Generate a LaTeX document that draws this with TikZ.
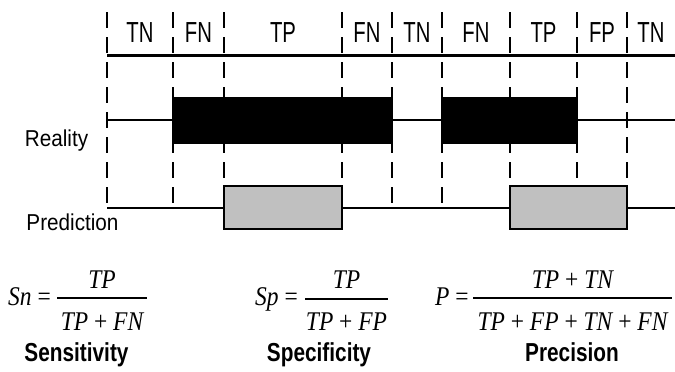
\documentclass[tikz,border=0pt]{standalone}
\usepackage{fontspec}
\setmainfont{Liberation Sans}
\newfontfamily\lblfont{Liberation Sans}[FakeStretch=0.7]
\newfontfamily\sidefont{Liberation Sans}[FakeStretch=0.9]
\newfontfamily\namefont{Liberation Sans}[FakeStretch=0.8]
\newfontfamily\tnr{Liberation Serif}[FakeStretch=0.87]
\newcommand\vi[1]{{\itshape #1}}
\definecolor{predgrey}{RGB}{192,192,192}
\begin{document}
\begin{tikzpicture}[x=1pt,y=-1pt,
  seglabel/.style={font=\lblfont\fontsize{29}{31}\selectfont, anchor=base, inner sep=0pt},
  sidelabel/.style={font=\sidefont\fontsize{23}{25}\selectfont, anchor=base, inner sep=0pt},
  namelabel/.style={font=\namefont\bfseries\fontsize{26}{28}\selectfont, anchor=base, inner sep=0pt},
  fml/.style={font=\tnr\fontsize{27}{29}\selectfont, anchor=base, inner sep=0pt},
  fmllhs/.style={fml, anchor=base west},
  divider/.style={line width=1.6pt, dash pattern=on 16pt off 9pt},
  axisline/.style={line width=3pt},
  trackline/.style={line width=1.7pt},
  realbox/.style={fill=black, draw=black, line width=1.4pt},
  predbox/.style={fill=predgrey, draw=black, line width=1.7pt},
  fracbar/.style={line width=1.6pt}]
\useasboundingbox (0,0) rectangle (675,372);
\fill[white] (0,0) rectangle (675,372);

% dividers
\foreach \i/\x in {0/107,1/173,2/224,3/342,4/392,5/442,6/510,7/577,8/627} {
  \coordinate (t\i) at (\x,12);
  \coordinate (b\i) at (\x,208);
  \draw[divider] (t\i) -- (b\i);
}

% axis and tracks
\coordinate (axisL) at (107,55);  \coordinate (axisR) at (675,55);
\coordinate (realL) at (107,120); \coordinate (realR) at (675,120);
\coordinate (predL) at (107,208); \coordinate (predR) at (675,208);
\draw[axisline] (axisL) -- (axisR);
\draw[trackline] (realL) -- (realR);
\draw[trackline] (predL) -- (predR);

% reality boxes
\draw[realbox] (173,98) rectangle (392,143);
\draw[realbox] (442,98) rectangle (577,143);
% prediction boxes
\draw[predbox] (224,186) rectangle (342,229);
\draw[predbox] (510,186) rectangle (627,229);

% segment labels
\node[seglabel] (l1) at (140,42) {TN};
\node[seglabel] (l2) at (198.5,42) {FN};
\node[seglabel] (l3) at (283,42) {TP};
\node[seglabel] (l4) at (367,42) {FN};
\node[seglabel] (l5) at (417,42) {TN};
\node[seglabel] (l6) at (476,42) {FN};
\node[seglabel] (l7) at (543.5,42) {TP};
\node[seglabel] (l8) at (602,42) {FP};
\node[seglabel] (l9) at (651,42) {TN};

% side labels
\node[sidelabel] (reality) at (56.5,146) {Reality};
\node[sidelabel] (prediction) at (72.5,230) {Prediction};

% formulas
\node[fmllhs] (snlhs) at (8,305) {\vi{Sn} =};
\draw[fracbar] (57,298) -- (147,298);
\node[fml] (snnum) at (102,288) {\vi{TP}};
\node[fml] (snden) at (102,330) {\vi{TP} + \vi{FN}};

\node[fmllhs] (splhs) at (255,305) {\vi{Sp} =};
\draw[fracbar] (305,299) -- (388,299);
\node[fml] (spnum) at (346.5,288) {\vi{TP}};
\node[fml] (spden) at (346.5,330) {\vi{TP} + \vi{FP}};

\node[fmllhs] (plhs) at (435,305) {\vi{P} =};
\draw[fracbar] (473,298) -- (672,298);
\node[fml] (pnum) at (572.5,288) {\vi{TP} + \vi{TN}};
\node[fml] (pden) at (572.5,330) {\vi{TP} + \vi{FP} + \vi{TN} + \vi{FN}};

% names
\node[namelabel] (sens) at (76.5,361) {Sensitivity};
\node[namelabel] (spec) at (319,361) {Specificity};
\node[namelabel] (prec) at (572,361) {Precision};
\end{tikzpicture}
\end{document}
